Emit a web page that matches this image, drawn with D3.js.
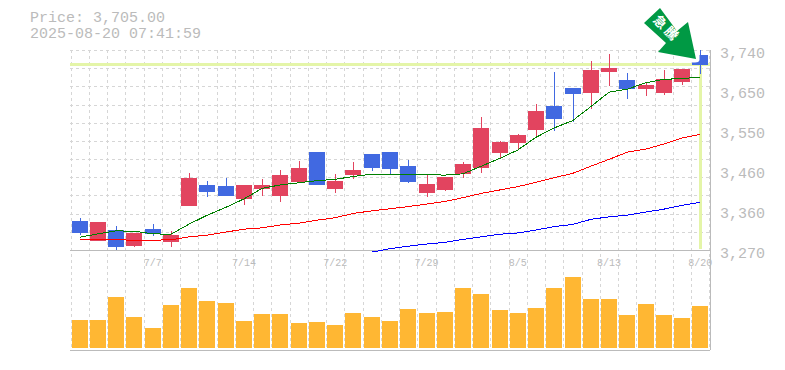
<!DOCTYPE html>
<html>
<head>
<meta charset="utf-8">
<script src="https://cdn.jsdelivr.net/npm/d3@7"></script>
<style>
  html, body { margin: 0; padding: 0; background: #fff; }
  svg { display: block; }
  text { font-family: "Liberation Mono", monospace; fill: #bbb; }
</style>
</head>
<body>
<div class="canvas"></div>
<script>
const priceText = "Price: 3,705.00";
const timeText = "2025-08-20 07:41:59";
const lastPrice = 3705;

const dateLabels = ["", "", "", "", "7/7", "", "", "", "", "7/14", "", "", "", "", "7/22", "", "", "", "", "7/29", "", "", "", "", "8/5", "", "", "", "", "8/13", "", "", "", "", "8/20"];
const priceTicks = [3740, 3646, 3552, 3458, 3364, 3270];

const open = [3338, 3291, 3317, 3279, 3319, 3289, 3373, 3423, 3420, 3390, 3413, 3397, 3430, 3500, 3413, 3446, 3496, 3500, 3467, 3404, 3411, 3449, 3463, 3498, 3521, 3552, 3608, 3651, 3639, 3688, 3670, 3648, 3639, 3665, 3728];
const close = [3310, 3336, 3277, 3310, 3308, 3305, 3439, 3406, 3397, 3423, 3423, 3446, 3463, 3423, 3432, 3458, 3463, 3460, 3430, 3425, 3442, 3472, 3557, 3524, 3540, 3597, 3578, 3637, 3693, 3698, 3648, 3658, 3672, 3695, 3705];
const high = [3345, 3336, 3326, 3310, 3331, 3315, 3451, 3432, 3439, 3423, 3437, 3458, 3479, 3500, 3449, 3477, 3496, 3500, 3481, 3449, 3442, 3477, 3583, 3526, 3543, 3613, 3688, 3651, 3714, 3731, 3686, 3665, 3693, 3695, 3740];
const low = [3305, 3291, 3269, 3277, 3303, 3277, 3373, 3395, 3397, 3376, 3397, 3383, 3430, 3423, 3404, 3437, 3456, 3446, 3427, 3395, 3409, 3439, 3451, 3484, 3505, 3536, 3550, 3571, 3601, 3655, 3625, 3632, 3634, 3658, 3684];

const maShort = [3300, 3308, 3315, 3314, 3308, 3307, 3331, 3352, 3370, 3390, 3415, 3423, 3428, 3433, 3436, 3443, 3448, 3448, 3448, 3447, 3446, 3449, 3467, 3485, 3505, 3535, 3557, 3574, 3607, 3641, 3648, 3663, 3671, 3673, 3676];
const maMid = [3295, 3295, 3294, 3293, 3293, 3294, 3301, 3305, 3312, 3319, 3322, 3329, 3333, 3340, 3346, 3356, 3362, 3367, 3372, 3378, 3384, 3393, 3403, 3411, 3419, 3429, 3440, 3450, 3467, 3483, 3500, 3507, 3519, 3533, 3542];
const maLong = [null, null, null, null, null, null, null, null, null, null, null, null, null, null, null, null, 3265, 3273, 3279, 3284, 3288, 3295, 3301, 3307, 3310, 3317, 3325, 3330, 3342, 3348, 3352, 3359, 3366, 3375, 3382];

const volume = [28, 28, 51, 31, 20, 43, 60, 47, 45, 27, 34, 34, 25, 26, 23, 35, 31, 27, 39, 35, 36, 60, 54, 38, 35, 40, 60, 71, 49, 49, 33, 44, 33, 30, 42];

const dims = { width: 785, height: 370, left: 70, right: 710, top: 50, mid: 250, bottom: 350 };
const days = d3.range(open.length);

const svg = d3
  .select(".canvas")
  .append("svg")
  .attr("width", dims.width)
  .attr("height", dims.height);

const x = d3.scaleBand().domain(days).range([70.5, 709.5]);
const y = d3.scaleLinear().domain([3270, 3740]).range([dims.mid, dims.top]);
const yVol = d3.scaleLinear().domain([0, 98]).range([348, dims.mid]);
const cx = (i) => x(i) + x.bandwidth() / 2;

// grid
const grid = svg.append("g").attr("stroke", "#d6d6d6").attr("stroke-dasharray", "3,3").attr("shape-rendering", "crispEdges");

d3.range(12).forEach((i) => {
  const gy = Math.round(dims.top + (i * (dims.mid - dims.top)) / 11);
  grid.append("line").attr("x1", dims.left).attr("x2", dims.right).attr("y1", gy).attr("y2", gy);
});

days.concat([days.length]).forEach((i) => {
  const gx = i < days.length ? Math.round(x(i)) : 709;
  grid.append("line").attr("x1", gx).attr("x2", gx).attr("y1", dims.top).attr("y2", dims.bottom);
});

// frame
const frame = svg.append("g").attr("stroke", "#bbb").attr("shape-rendering", "crispEdges");
frame.append("line").attr("x1", dims.left).attr("x2", dims.right).attr("y1", dims.mid).attr("y2", dims.mid);
frame.append("line").attr("x1", dims.left).attr("x2", dims.right).attr("y1", dims.bottom).attr("y2", dims.bottom);
frame.append("line").attr("x1", dims.right).attr("x2", dims.right).attr("y1", dims.top).attr("y2", dims.bottom);

// last price marker
const marker = svg.append("g").attr("stroke", "#e4f5a8").attr("stroke-width", 3).attr("shape-rendering", "crispEdges");
marker.append("line").attr("x1", dims.left).attr("x2", dims.right).attr("y1", y(lastPrice)).attr("y2", y(lastPrice));
marker.append("line").attr("x1", cx(34)).attr("x2", cx(34)).attr("y1", y(lastPrice)).attr("y2", 249);

// volume
svg
  .append("g")
  .selectAll("rect")
  .data(volume)
  .enter()
  .append("rect")
  .attr("x", (d, i) => Math.round(cx(i) - 8))
  .attr("width", 16)
  .attr("y", (d) => yVol(d))
  .attr("height", (d) => yVol(0) - yVol(d))
  .attr("fill", "#ffb733")
  .attr("shape-rendering", "crispEdges");

// candles
const candle = svg.append("g").selectAll("g").data(days).enter().append("g").attr("shape-rendering", "crispEdges");
const candleColor = (i) => (close[i] >= open[i] ? "#e2445f" : "#4169e1");

candle
  .append("line")
  .attr("x1", (i) => Math.round(cx(i)) + 0.5)
  .attr("x2", (i) => Math.round(cx(i)) + 0.5)
  .attr("y1", (i) => y(high[i]))
  .attr("y2", (i) => y(low[i]))
  .attr("stroke", candleColor);

candle
  .append("rect")
  .attr("x", (i) => Math.round(cx(i)) - 8)
  .attr("width", 16)
  .attr("y", (i) => y(Math.max(open[i], close[i])))
  .attr("height", (i) => Math.abs(y(open[i]) - y(close[i])))
  .attr("fill", candleColor);

// moving averages
const line = d3
  .line()
  .defined((d) => d !== null)
  .x((d, i) => cx(i))
  .y((d) => y(d));

[
  [maShort, "#008000"],
  [maMid, "#ff0000"],
  [maLong, "#0000ff"],
].forEach(([values, color]) => {
  svg
    .append("path")
    .attr("d", line(values))
    .attr("fill", "none")
    .attr("stroke", color)
    .attr("stroke-width", 1)
    .attr("shape-rendering", "crispEdges");
});

// labels
svg
  .selectAll(".price-label")
  .data(priceTicks)
  .enter()
  .append("text")
  .attr("class", "price-label")
  .attr("x", 720)
  .attr("y", (d) => y(d) + 8)
  .attr("font-size", 15)
  .text((d) => d3.format(",")(Math.round(d / 10) * 10));

svg
  .selectAll(".date-label")
  .data(dateLabels)
  .enter()
  .append("text")
  .attr("class", "date-label")
  .attr("x", (d, i) => cx(i))
  .attr("y", 266)
  .attr("text-anchor", "middle")
  .attr("font-size", 10)
  .text((d) => d);

svg.append("text").attr("x", 30).attr("y", 22).attr("font-size", 15).text(priceText);
svg.append("text").attr("x", 30).attr("y", 38).attr("font-size", 15).text(timeText);

// arrow, its image has a white corner that cuts into the last candle
const arrow = svg.append("g");
arrow.append("path").attr("d", "M691,54L699.5,54L699.5,60Q699,62.5 695,62.5L691,62.5Z").attr("fill", "#fff");
arrow
  .append("path")
  .attr("d", "M660,8L644,23L666,43L658,52L696,59L688,22L677,31Z")
  .attr("fill", "#009944");
arrow
  .append("text")
  .attr("transform", "translate(666,29.5) rotate(45)")
  .attr("text-anchor", "middle")
  .attr("dominant-baseline", "middle")
  .attr("font-size", 13)
  .attr("font-weight", "bold")
  .attr("letter-spacing", 3)
  .style("font-family", '"Noto Sans CJK JP"')
  .style("fill", "#fff")
  .text("急騰");
</script>
</body>
</html>
